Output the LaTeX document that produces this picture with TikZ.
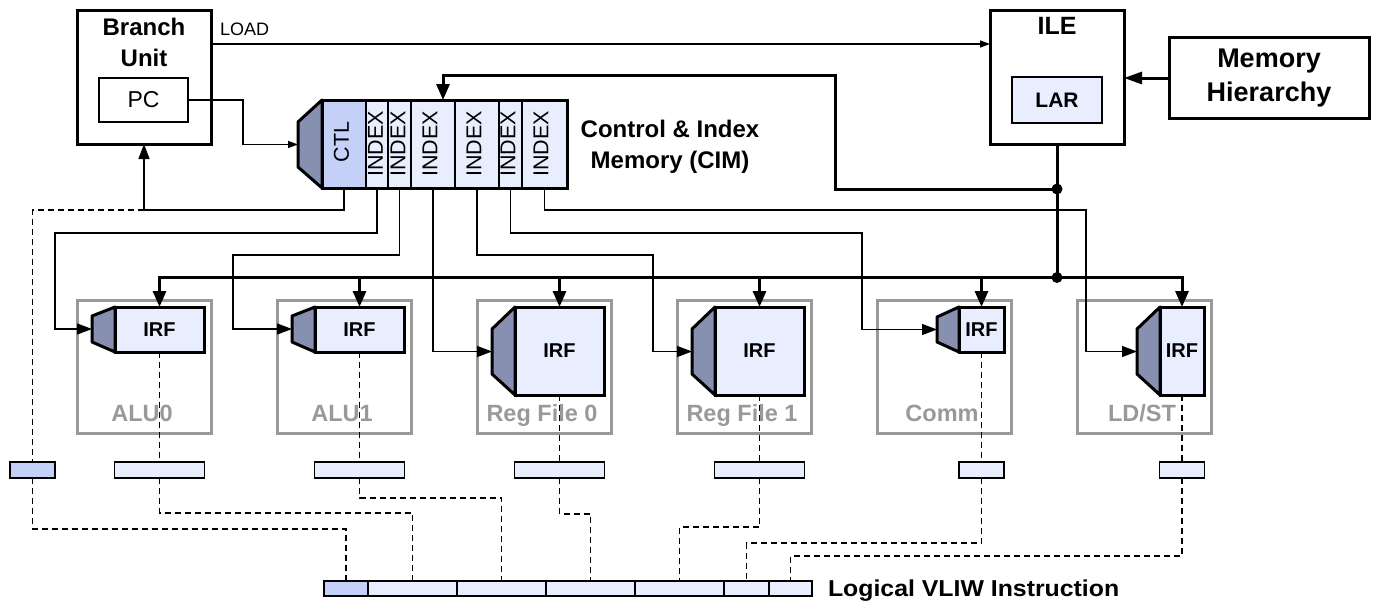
\documentclass[tikz,border=0pt]{standalone}
\usepackage{fontspec}
\setmainfont{Liberation Sans}
\usetikzlibrary{arrows.meta,calc}
\definecolor{muxfill}{RGB}{136,144,178}
\definecolor{ctlfill}{RGB}{197,208,248}
\definecolor{cellfill}{RGB}{232,238,253}
\definecolor{unitgray}{RGB}{153,153,153}

\begin{document}
\begin{tikzpicture}[x=1pt,y=-1pt,
  every node/.style={inner sep=0pt,outer sep=0pt},
  heavybox/.style={draw,line width=3pt,fill=white},
  thinline/.style={line width=1.3pt},
  thinarr/.style={thinline,-{Triangle[length=15pt,width=11pt]}},
  smallarr/.style={thinline,-{Triangle[length=10pt,width=7pt]}},
  busline/.style={line width=3pt},
  busarr/.style={busline,-{Triangle[length=16pt,width=13pt]}},
  ctrlpath/.style={line width=1.4pt,dash pattern=on 6pt off 4pt},
  muxshape/.style={draw,fill=muxfill,line width=3pt,line join=round},
  irfbox/.style={draw,fill=cellfill,line width=3pt,font=\bfseries\fontsize{20}{24}\selectfont},
  cimcell/.style={draw,fill=cellfill,line width=1.3pt,minimum height=88pt},
  celltxt/.style={rotate=90,font=\fontsize{21.5}{26}\selectfont},
  unitbox/.style={draw=unitgray,line width=3pt,minimum width=134pt,minimum height=133pt},
  unitlbl/.style={anchor=base,text=unitgray,font=\bfseries\fontsize{23.5}{28}\selectfont},
  fieldbar/.style={draw,fill=cellfill,line width=1.5pt,minimum height=16pt},
  vliwcell/.style={draw,fill=cellfill,line width=1.5pt,minimum height=15pt}]
\useasboundingbox (0,0) rectangle (1375,602);

% ---------- functional units (grey frames) ----------
\node[unitbox] (alu0) at (144,366.5) {};
\node[unitbox] (alu1) at (344,366.5) {};
\node[unitbox] (rf0)  at (544,366.5) {};
\node[unitbox] (rf1)  at (744,366.5) {};
\node[unitbox] (comm) at (944,366.5) {};
\node[unitbox] (ldst) at (1144,366.5) {};
\node[unitlbl] (alu0lbl) at (142,421) {ALU0};
\node[unitlbl] (alu1lbl) at (342,421) {ALU1};
\node[unitlbl] (rf0lbl)  at (542,421) {Reg File 0};
\node[unitlbl] (rf1lbl)  at (742,421) {Reg File 1};
\node[unitlbl] (commlbl) at (942,421) {Comm};
\node[unitlbl] (ldstlbl) at (1142,421) {LD/ST};

% ---------- branch unit ----------
\node[heavybox,minimum width=134pt,minimum height=133pt] (bu) at (144,77.5) {};
\node[font=\bfseries\fontsize{24}{31}\selectfont,align=center] (butxt) at (144,42) {Branch\\Unit};
\node[draw,line width=1.3pt,minimum width=89pt,minimum height=44pt,
      font=\fontsize{23}{28}\selectfont] (pc) at (143.5,100) {PC};

% ---------- ILE and memory ----------
\node[heavybox,minimum width=134pt,minimum height=133pt] (ile) at (1057,77.5) {};
\node[font=\bfseries\fontsize{25}{30}\selectfont] (iletxt) at (1057,26) {ILE};
\node[draw,line width=2.5pt,fill=cellfill,minimum width=90pt,minimum height=46pt,
      font=\bfseries\fontsize{21}{25}\selectfont] (lar) at (1057,100) {LAR};
\node[heavybox,minimum width=200pt,minimum height=81pt,align=center,
      font=\bfseries\fontsize{27}{34}\selectfont] (mem) at (1269,78) {Memory\\Hierarchy};
\draw[busline,-{Triangle[length=18pt,width=12pt]}] (mem.west) -- (mem.west -| ile.east);

% LOAD signal
\coordinate (ldsrc) at ([yshift=-33pt]bu.north east);
\draw[smallarr] (ldsrc) -- (ldsrc -| ile.west);
\node[anchor=base west,font=\fontsize{18}{22}\selectfont] (loadtxt) at (220,36) {LOAD};

% ---------- control & index memory ----------
\draw[muxshape] (298,122) -- (322,100) -- (322,188) -- (298,167) -- cycle;
\coordinate (cimin) at (298,144.5);
\node[cimcell,fill=ctlfill,minimum width=44pt] (ctl) at (344,144) {};
\node[cimcell,minimum width=22pt] (idx1) at (377,144) {};
\node[cimcell,minimum width=23pt] (idx2) at (399.5,144) {};
\node[cimcell,minimum width=44pt] (idx3) at (433,144) {};
\node[cimcell,minimum width=44pt] (idx4) at (477,144) {};
\node[cimcell,minimum width=23pt] (idx5) at (510.5,144) {};
\node[cimcell,minimum width=45pt] (idx6) at (544.5,144) {};
\draw[line width=3pt] (ctl.north west) rectangle (idx6.south east);
\node[celltxt] (ctltxt) at ([xshift=-2.5pt,yshift=2pt]ctl.center) {CTL};
\node[celltxt] (idx1txt) at ([xshift=-1.5pt]idx1.center) {INDEX};
\node[celltxt] (idx2txt) at ([xshift=-1.5pt]idx2.center) {INDEX};
\node[celltxt] (idx3txt) at ([xshift=-3pt]idx3.center) {INDEX};
\node[celltxt] (idx4txt) at ([xshift=-3pt]idx4.center) {INDEX};
\node[celltxt] (idx5txt) at ([xshift=-2.5pt]idx5.center) {INDEX};
\node[celltxt] (idx6txt) at ([xshift=-3.5pt]idx6.center) {INDEX};
\node[font=\bfseries\fontsize{24}{31}\selectfont,align=center] (cimtxt) at (670,146.5)
  {Control \& Index\\Memory (CIM)};

% PC feeds the CIM read port
\draw[smallarr] (pc.east) -- (243,100) |- (cimin);

% ---------- per-unit instruction register files ----------
\node[irfbox,minimum width=89pt,minimum height=45pt] (alu0irf) at (159.5,329.5) {IRF};
\node[irfbox,minimum width=89pt,minimum height=45pt] (alu1irf) at (359.5,329.5) {IRF};
\node[irfbox,minimum width=89pt,minimum height=88pt] (rf0irf)  at (559.5,351) {IRF};
\node[irfbox,minimum width=89pt,minimum height=88pt] (rf1irf)  at (759.5,351) {IRF};
\node[irfbox,minimum width=45pt,minimum height=45pt] (commirf) at (981.5,329.5) {IRF};
\node[irfbox,minimum width=44pt,minimum height=88pt] (ldstirf) at (1182,351) {IRF};
\draw[muxshape] (92,316) -- (115,307) -- (115,352) -- (92,342) -- cycle;
\draw[muxshape] (292,316) -- (315,307) -- (315,352) -- (292,342) -- cycle;
\draw[muxshape] (492,329) -- (515,307) -- (515,395) -- (492,374) -- cycle;
\draw[muxshape] (692,329) -- (715,307) -- (715,395) -- (692,374) -- cycle;
\draw[muxshape] (937,317) -- (959,307) -- (959,352) -- (937,342) -- cycle;
\draw[muxshape] (1137,329) -- (1160,307) -- (1160,395) -- (1137,374) -- cycle;
\coordinate (alu0in) at (92,329);
\coordinate (alu1in) at (292,329);
\coordinate (rf0in)  at (492,351.5);
\coordinate (rf1in)  at (692,351.5);
\coordinate (commin) at (937,329.5);
\coordinate (ldstin) at (1137,351.5);

% index fields select an entry in each IRF
\draw[thinarr] (idx1.south) |- (55,233) |- (alu0in);
\draw[thinarr] (idx2.south) |- (233,255) |- (alu1in);
\draw[thinarr] (idx3.south) |- (rf0in);
\draw[thinarr] (idx4.south) |- (653,255) |- (rf1in);
\draw[thinarr] (idx5.south) |- (862,233) |- (commin);
\draw[thinarr] (idx6.south) |- (1086,210) |- (ldstin);

% CTL field back to the branch unit
\coordinate (brjoin) at (144,210);
\draw[thinline] (ctl.south) |- (brjoin);
\draw[thinarr] (brjoin) -- (bu.south);

% ---------- load bus from the ILE ----------
\coordinate (j1) at (1057,189);
\coordinate (j2) at (1057,277.5);
\coordinate (cimtop) at (443,100);
\draw[busline] (ile.south) -- (j2);
\draw[busarr] (j1) -| (835,75) -| (cimtop);
\foreach \dst in {alu0irf,alu1irf,rf0irf,rf1irf,commirf,ldstirf}
  \draw[busarr] (j2) -| (\dst.north);
\fill (j1) circle (5.5pt);
\fill (j2) circle (5.5pt);

% ---------- instruction fields ----------
\node[fieldbar,fill=ctlfill,minimum width=45pt] (ctlbar) at (32.5,470) {};
\node[fieldbar,minimum width=90pt] (alu0bar) at (159.5,470) {};
\node[fieldbar,minimum width=90pt] (alu1bar) at (359.5,470) {};
\node[fieldbar,minimum width=90pt] (rf0bar)  at (559.5,470) {};
\node[fieldbar,minimum width=90pt] (rf1bar)  at (759.5,470) {};
\node[fieldbar,minimum width=45pt] (commbar) at (981.5,470) {};
\node[fieldbar,minimum width=45pt] (ldstbar) at (1182,470) {};

\node[vliwcell,fill=ctlfill,minimum width=44pt] (v0) at (346,588.5) {};
\node[vliwcell,minimum width=89pt] (v1) at (412.5,588.5) {};
\node[vliwcell,minimum width=89pt] (v2) at (501.5,588.5) {};
\node[vliwcell,minimum width=89pt] (v3) at (590.5,588.5) {};
\node[vliwcell,minimum width=89pt] (v4) at (679.5,588.5) {};
\node[vliwcell,minimum width=45pt] (v5) at (746.5,588.5) {};
\node[vliwcell,minimum width=43pt] (v6) at (790.5,588.5) {};
\node[anchor=base west,font=\bfseries\fontsize{23}{28}\selectfont] (vliwtxt) at (828,596)
  {\scalebox{1.08}[1]{Logical VLIW Instruction}};

% dashed mapping of fields
\draw[ctrlpath] (brjoin) -| (ctlbar.north);
\foreach \src in {alu0,alu1,rf0,rf1,comm,ldst}
  \draw[ctrlpath] (\src irf.south) -- (\src irf.south |- \src bar.north);
\draw[ctrlpath] (ctlbar.south) -- ++(0,51) -| (v0.north);
\draw[ctrlpath] (alu0bar.south) -- ++(0,35) -| (v1.north);
\draw[ctrlpath] (alu1bar.south) -- ++(0,20) -| (v2.north);
\draw[ctrlpath] (rf0bar.south) -- ++(0,36) -| (v3.north);
\draw[ctrlpath] (rf1bar.south) -- ++(0,49) -| (v4.north);
\draw[ctrlpath] (commbar.south) -- ++(0,65) -| (v5.north);
\draw[ctrlpath] (ldstbar.south) -- ++(0,78) -| (v6.north);
\end{tikzpicture}
\end{document}
